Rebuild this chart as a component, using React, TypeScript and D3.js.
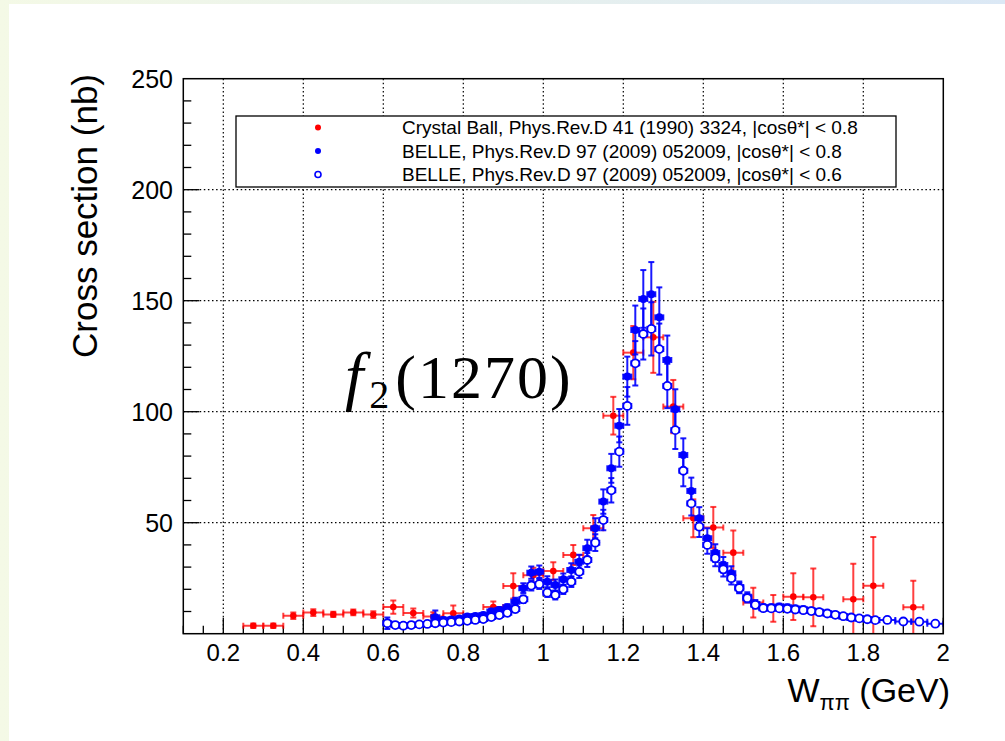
import * as d3 from 'd3';
import React, { useRef, useEffect } from 'react';

// Crystal Ball, |cos| < 0.8
const cbX = [0.275, 0.325, 0.375, 0.425, 0.475, 0.525, 0.575, 0.625, 0.675, 0.725, 0.775, 0.875, 0.925, 0.975, 1.025, 1.075, 1.125, 1.175, 1.225, 1.275, 1.325, 1.375, 1.425, 1.475, 1.525, 1.575, 1.625, 1.675, 1.775, 1.825, 1.925];
const cbY = [3.6, 3.6, 8.1, 9.5, 8.7, 9.6, 8.6, 12.0, 9.3, 7.7, 9.2, 12.0, 21.5, 26.3, 28.2, 35.5, 47.5, 98.2, 126.6, 133.5, 102.3, 52.0, 47.8, 36.5, 14.0, 11.4, 16.7, 16.4, 15.5, 21.6, 11.9];
const cbErr = [1.0, 1.0, 1.5, 1.5, 1.2, 1.3, 1.5, 3.0, 2.0, 2.0, 3.5, 2.5, 5.7, 3.4, 4.0, 4.5, 6.0, 8.5, 12.0, 16.0, 12.0, 8.5, 9.3, 10.0, 6.7, 6.0, 10.5, 13.0, 16.0, 22.0, 12.0];

// BELLE |cos| < 0.8 (filled)
const b8X = [0.73, 0.75, 0.77, 0.79, 0.81, 0.83, 0.85, 0.87, 0.89, 0.91, 0.93, 0.95, 0.97, 0.99, 1.01, 1.03, 1.05, 1.07, 1.09, 1.11, 1.13, 1.15, 1.17, 1.19, 1.21, 1.23, 1.25, 1.27, 1.29, 1.31, 1.33, 1.35, 1.37, 1.39, 1.41, 1.43, 1.45, 1.47, 1.49, 1.51, 1.53, 1.55, 1.57, 1.59, 1.61, 1.63, 1.65, 1.67, 1.69, 1.71, 1.73, 1.75, 1.77, 1.79, 1.81];
const b8Y = [7.4, 6.2, 6.4, 6.9, 7.7, 8.0, 8.4, 10.0, 10.7, 11.9, 14.4, 20.5, 27.5, 27.9, 23.4, 21.9, 24.5, 28.7, 32.4, 38.5, 47.5, 59.5, 74.5, 93.7, 115.8, 136.8, 150.8, 152.9, 142.5, 123.3, 101.1, 80.5, 64.3, 52.0, 43.0, 36.3, 31.0, 27.2, 21.0, 16.7, 13.4, 11.9, 11.9, 12.2, 11.9, 11.4, 11.0, 10.4, 9.9, 9.2, 8.4, 7.7, 7.1, 6.9, 6.5];
const b8Err = [3.0, 1.2, 1.0, 1.0, 1.0, 1.0, 1.0, 1.2, 1.2, 1.4, 1.8, 2.2, 2.8, 2.8, 2.5, 2.5, 2.6, 3.0, 3.2, 3.8, 4.5, 5.5, 6.5, 7.5, 9.0, 11.0, 13.0, 14.5, 13.5, 11.0, 9.0, 7.5, 6.0, 5.0, 4.5, 4.0, 3.5, 3.2, 2.5, 2.0, 1.8, 1.4, 1.3, 1.3, 1.2, 1.2, 1.2, 1.1, 1.1, 1.0, 1.0, 1.0, 0.9, 0.9, 0.9];

// BELLE |cos| < 0.6 (open)
const b6X = [0.61, 0.63, 0.65, 0.67, 0.69, 0.71, 0.73, 0.75, 0.77, 0.79, 0.81, 0.83, 0.85, 0.87, 0.89, 0.91, 0.93, 0.95, 0.97, 0.99, 1.01, 1.03, 1.05, 1.07, 1.09, 1.11, 1.13, 1.15, 1.17, 1.19, 1.21, 1.23, 1.25, 1.27, 1.29, 1.31, 1.33, 1.35, 1.37, 1.39, 1.41, 1.43, 1.45, 1.47, 1.49, 1.51, 1.53, 1.55, 1.57, 1.59, 1.61, 1.63, 1.65, 1.67, 1.69, 1.71, 1.73, 1.75, 1.77, 1.79, 1.81, 1.83];
const b6Y = [4.7, 3.9, 3.6, 3.9, 4.2, 4.4, 4.7, 5.0, 5.2, 5.5, 5.8, 6.2, 6.6, 7.5, 8.4, 9.4, 11.1, 15.5, 21.7, 22.3, 18.5, 17.4, 20.0, 23.4, 27.9, 33.2, 41.0, 51.2, 64.6, 82.0, 102.6, 121.8, 135.0, 137.3, 128.2, 111.6, 91.7, 73.4, 58.7, 48.2, 40.0, 34.0, 29.0, 25.0, 20.5, 16.0, 13.0, 11.5, 11.4, 11.4, 11.2, 10.9, 10.6, 10.2, 9.7, 9.1, 8.5, 7.9, 7.3, 6.9, 6.5, 6.1];
const b6Err = [2.6, 1.0, 0.9, 0.9, 0.9, 0.9, 0.9, 0.9, 0.9, 0.9, 0.9, 1.0, 1.0, 1.1, 1.2, 1.3, 1.4, 1.7, 2.2, 2.2, 2.0, 2.0, 2.1, 2.4, 2.8, 3.2, 3.8, 4.6, 5.5, 6.8, 8.5, 10.0, 11.5, 12.0, 11.5, 10.0, 8.5, 7.0, 5.5, 4.6, 4.0, 3.6, 3.2, 2.8, 2.3, 1.9, 1.6, 1.3, 1.2, 1.2, 1.2, 1.2, 1.1, 1.1, 1.1, 1.0, 1.0, 1.0, 0.9, 0.9, 0.9, 0.9];
// wider bins at the high end
const b6TailX = [1.86, 1.90, 1.94, 1.98];
const b6TailY = [6.2, 5.5, 5.4, 4.5];
const b6TailErr = [1.0, 1.0, 1.0, 1.0];

const xTicks = [0.2, 0.4, 0.6, 0.8, 1.0, 1.2, 1.4, 1.6, 1.8, 2.0];
const xTickLabels = ['0.2', '0.4', '0.6', '0.8', '1', '1.2', '1.4', '1.6', '1.8', '2'];
const yTicks = [50, 100, 150, 200, 250];
const yTickLabels = ['50', '100', '150', '200', '250'];

const legendLabels = [
  'Crystal Ball, Phys.Rev.D 41 (1990) 3324, |cosθ*| < 0.8',
  'BELLE, Phys.Rev.D 97 (2009) 052009, |cosθ*| < 0.8',
  'BELLE, Phys.Rev.D 97 (2009) 052009, |cosθ*| < 0.6',
];

const SANS = 'Liberation Sans, Arial, Helvetica, sans-serif';

function App() {
  const ref = useRef<SVGSVGElement>(null);

  useEffect(() => {
    const svg = d3.select(ref.current);
    svg.selectAll('*').remove();

    const left = 183.3, right = 943.3, top = 78.7, bottom = 633.7;

    // page background
    const defs = svg.append('defs');
    const grad = defs.append('linearGradient').attr('id', 'bg').attr('x1', '0%').attr('x2', '100%');
    grad.append('stop').attr('offset', '0%').attr('stop-color', '#f4f9e6');
    grad.append('stop').attr('offset', '100%').attr('stop-color', '#dbe8f5');
    defs.append('clipPath').attr('id', 'plot')
      .append('rect').attr('x', left).attr('y', top).attr('width', right - left).attr('height', bottom - top);

    svg.append('rect').attr('width', 1005).attr('height', 741).attr('fill', 'url(#bg)');
    svg.append('rect').attr('x', 9).attr('y', 4).attr('width', 996).attr('height', 737).attr('fill', '#fff');

    const x = d3.scaleLinear().domain([0.1, 2.0]).range([left, right]);
    const y = d3.scaleLinear().domain([0, 250]).range([bottom, top]);

    // grid
    const grid = svg.append('g').attr('stroke', '#000').attr('stroke-width', 1.2)
      .attr('stroke-dasharray', '1.5,2.6');
    xTicks.filter(t => t < 2).forEach(t => {
      grid.append('line').attr('x1', x(t)).attr('x2', x(t)).attr('y1', bottom).attr('y2', top);
    });
    yTicks.filter(t => t < 250).forEach(t => {
      grid.append('line').attr('x1', left).attr('x2', right).attr('y1', y(t)).attr('y2', y(t));
    });

    // ticks
    const ticks = svg.append('g').attr('stroke', '#000').attr('stroke-width', 1.3);
    d3.range(0.1, 2.0001, 0.05).forEach(t => {
      const major = xTicks.some(m => Math.abs(m - t) < 1e-6);
      ticks.append('line').attr('x1', x(t)).attr('x2', x(t))
        .attr('y1', bottom).attr('y2', bottom - (major ? 16 : 8));
    });
    d3.range(10, 250, 10).forEach(t => {
      const major = t % 50 === 0;
      ticks.append('line').attr('x1', left).attr('x2', left + (major ? 16 : 8))
        .attr('y1', y(t)).attr('y2', y(t));
    });

    // tick labels
    svg.append('g').selectAll('text').data(xTicks).enter().append('text')
      .attr('x', d => x(d)).attr('y', 661).attr('text-anchor', 'middle')
      .attr('font-family', SANS).attr('font-size', 24).attr('fill', '#000')
      .text((d, i) => xTickLabels[i]);
    svg.append('g').selectAll('text').data(yTicks).enter().append('text')
      .attr('x', 173).attr('y', d => y(d)).attr('dy', '0.36em').attr('text-anchor', 'end')
      .attr('font-family', SANS).attr('font-size', 25).attr('fill', '#000')
      .text((d, i) => yTickLabels[i]);

    // data
    const data = svg.append('g').attr('clip-path', 'url(#plot)');
    const cap = 3;

    function bars(g: any, xs: number[], ys: number[], es: number[], xe: number, color: string, op: number) {
      xs.forEach((xv, i) => {
        const px = x(xv), py = y(ys[i]);
        const y1 = y(ys[i] - es[i]), y2 = y(ys[i] + es[i]);
        const x1 = x(xv - xe), x2 = x(xv + xe);
        const b = g.append('g').attr('stroke', color).attr('stroke-width', 2).attr('stroke-opacity', op).attr('fill', 'none');
        b.append('line').attr('x1', px).attr('x2', px).attr('y1', y1).attr('y2', y2);
        b.append('line').attr('x1', px - cap).attr('x2', px + cap).attr('y1', y1).attr('y2', y1);
        b.append('line').attr('x1', px - cap).attr('x2', px + cap).attr('y1', y2).attr('y2', y2);
        b.append('line').attr('x1', x1).attr('x2', x2).attr('y1', py).attr('y2', py);
        b.append('line').attr('x1', x1).attr('x2', x1).attr('y1', py - cap).attr('y2', py + cap);
        b.append('line').attr('x1', x2).attr('x2', x2).attr('y1', py - cap).attr('y2', py + cap);
      });
    }

    // Crystal Ball
    bars(data, cbX, cbY, cbErr, 0.025, '#ff0000', 0.75);
    data.append('g').selectAll('circle').data(cbX).enter().append('circle')
      .attr('cx', d => x(d)).attr('cy', (d, i) => y(cbY[i])).attr('r', 3.3).attr('fill', '#ff0000');

    // BELLE open
    bars(data, b6X, b6Y, b6Err, 0.01, '#0000ff', 0.9);
    bars(data, b6TailX, b6TailY, b6TailErr, 0.02, '#0000ff', 0.9);
    const openX = b6X.concat(b6TailX);
    const openY = b6Y.concat(b6TailY);

    // BELLE filled
    bars(data, b8X, b8Y, b8Err, 0.01, '#0000ff', 0.9);
    data.append('g').selectAll('circle').data(b8X).enter().append('circle')
      .attr('cx', d => x(d)).attr('cy', (d, i) => y(b8Y[i])).attr('r', 4).attr('fill', '#0000ff');

    data.append('g').selectAll('circle').data(openX).enter().append('circle')
      .attr('cx', d => x(d)).attr('cy', (d, i) => y(openY[i])).attr('r', 4)
      .attr('fill', '#fff').attr('stroke', '#0000ff').attr('stroke-width', 1.8);

    // frame
    svg.append('rect').attr('x', left).attr('y', top).attr('width', right - left).attr('height', bottom - top)
      .attr('fill', 'none').attr('stroke', '#000').attr('stroke-width', 1.5);

    // legend
    const lg = svg.append('g');
    lg.append('rect').attr('x', 236).attr('y', 116).attr('width', 660).attr('height', 71)
      .attr('fill', '#fff').attr('stroke', '#000').attr('stroke-width', 1.3);
    const rows = [127.5, 151, 174.5];
    lg.append('circle').attr('cx', 318).attr('cy', rows[0]).attr('r', 3).attr('fill', '#ff0000');
    lg.append('circle').attr('cx', 318).attr('cy', rows[1]).attr('r', 3).attr('fill', '#0000ff');
    lg.append('circle').attr('cx', 318).attr('cy', rows[2]).attr('r', 3).attr('fill', 'none')
      .attr('stroke', '#0000ff').attr('stroke-width', 1.6);
    lg.selectAll('text.l').data(legendLabels).enter().append('text')
      .attr('x', 402).attr('y', (d, i) => rows[i]).attr('dy', '0.36em')
      .attr('font-family', SANS).attr('font-size', 19).attr('fill', '#000')
      .text(d => d);

    // axis titles
    const xt = svg.append('text').attr('x', 950).attr('y', 702).attr('text-anchor', 'end')
      .attr('font-family', SANS).attr('font-size', 34).attr('fill', '#000');
    xt.append('tspan').text('W');
    xt.append('tspan').attr('font-size', 22).attr('dy', 8).text('ππ');
    xt.append('tspan').attr('dy', -8).text(' (GeV)');

    svg.append('text').attr('transform', 'translate(97,74) rotate(-90)').attr('text-anchor', 'end')
      .attr('font-family', SANS).attr('font-size', 35).attr('fill', '#000')
      .text('Cross section (nb)');

    // resonance label
    const ft = svg.append('text').attr('x', 345).attr('y', 398)
      .attr('font-family', 'Liberation Serif, Times New Roman, serif').attr('font-size', 62).attr('fill', '#000');
    ft.append('tspan').attr('font-style', 'italic').attr('font-size', 66).text('f');
    ft.append('tspan').attr('font-size', 40).attr('dx', 6).attr('dy', 10).text('2');
    ft.append('tspan').attr('dx', 6).attr('dy', -10).attr('letter-spacing', 2).text('(1270)');
  }, []);

  return (
    <svg ref={ref} width={1005} height={741} style={{ position: 'absolute', left: 0, top: 0 }}>
    </svg>
  );
}

export default App;
